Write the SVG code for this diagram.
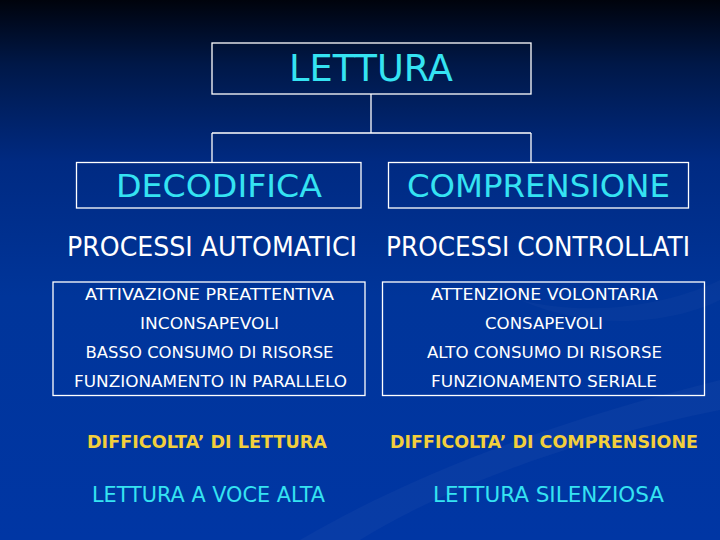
<svg xmlns="http://www.w3.org/2000/svg" width="720" height="540" viewBox="0 0 720 540">
<defs>
<linearGradient id="bg" x1="0" y1="0" x2="0" y2="1">
<stop offset="0" stop-color="#00030c"/>
<stop offset="0.12" stop-color="#001848"/>
<stop offset="0.3" stop-color="#002a82"/>
<stop offset="0.55" stop-color="#00359a"/>
<stop offset="1" stop-color="#0036a4"/>
</linearGradient>
<style>
.box{fill:none;stroke:#ffffff;stroke-width:1.3}
.ln{fill:none;stroke:#ffffff;stroke-width:1.3}
text{font-family:"DejaVu Sans","Liberation Sans",sans-serif;text-anchor:middle}
.cy{fill:#35e3f2}
.wh{fill:#ffffff}
.ye{fill:#f2cf3c;font-weight:bold}
</style>
</defs>
<rect width="720" height="540" fill="url(#bg)"/>
<path d="M300,540 C420,470 560,420 720,380 L720,410 C570,440 440,490 360,540 Z" fill="#ffffff" opacity="0.03"/>
<path d="M520,300 C600,320 680,300 720,280 L720,300 C680,320 600,335 520,300 Z" fill="#ffffff" opacity="0.025"/>
<g id="connectors">
<line class="ln" x1="371" y1="94" x2="371" y2="133"/>
<line class="ln" x1="212" y1="133" x2="531" y2="133"/>
<line class="ln" x1="212" y1="133" x2="212" y2="162"/>
<line class="ln" x1="531" y1="133" x2="531" y2="162"/>
</g>
<g id="lettura">
<rect class="box" x="212" y="43" width="319" height="51"/>
<text class="cy" x="371" y="81" font-size="37" textLength="164" lengthAdjust="spacingAndGlyphs">LETTURA</text>
</g>
<g id="decodifica">
<rect class="box" x="76.5" y="162.5" width="284.5" height="45.5"/>
<text class="cy" x="219" y="197" font-size="32" textLength="206" lengthAdjust="spacingAndGlyphs">DECODIFICA</text>
</g>
<g id="comprensione">
<rect class="box" x="388.5" y="162.5" width="300" height="45.5"/>
<text class="cy" x="538.5" y="197" font-size="32" textLength="263" lengthAdjust="spacingAndGlyphs">COMPRENSIONE</text>
</g>
<g id="processi-automatici">
<text class="wh" x="212" y="256" font-size="26" textLength="290" lengthAdjust="spacingAndGlyphs">PROCESSI AUTOMATICI</text>
</g>
<g id="processi-controllati">
<text class="wh" x="538" y="256" font-size="26" textLength="304" lengthAdjust="spacingAndGlyphs">PROCESSI CONTROLLATI</text>
</g>
<g id="automatici-box">
<rect class="box" x="53" y="282" width="312" height="113.5"/>
<text class="wh" x="209.5" y="300" font-size="16.5" textLength="249" lengthAdjust="spacingAndGlyphs">ATTIVAZIONE PREATTENTIVA</text>
<text class="wh" x="209.5" y="329" font-size="16.5" textLength="139" lengthAdjust="spacingAndGlyphs">INCONSAPEVOLI</text>
<text class="wh" x="209.5" y="358" font-size="16.5" textLength="248" lengthAdjust="spacingAndGlyphs">BASSO CONSUMO DI RISORSE</text>
<text class="wh" x="210.5" y="387" font-size="16.5" textLength="273" lengthAdjust="spacingAndGlyphs">FUNZIONAMENTO IN PARALLELO</text>
</g>
<g id="controllati-box">
<rect class="box" x="382.5" y="282" width="322" height="113.5"/>
<text class="wh" x="544.5" y="300" font-size="16.5" textLength="227" lengthAdjust="spacingAndGlyphs">ATTENZIONE VOLONTARIA</text>
<text class="wh" x="544" y="329" font-size="16.5" textLength="118" lengthAdjust="spacingAndGlyphs">CONSAPEVOLI</text>
<text class="wh" x="544.5" y="358" font-size="16.5" textLength="235" lengthAdjust="spacingAndGlyphs">ALTO CONSUMO DI RISORSE</text>
<text class="wh" x="544" y="387" font-size="16.5" textLength="226" lengthAdjust="spacingAndGlyphs">FUNZIONAMENTO SERIALE</text>
</g>
<g id="difficolta-lettura">
<text class="ye" x="207" y="448" font-size="17" textLength="240" lengthAdjust="spacingAndGlyphs">DIFFICOLTA’ DI LETTURA</text>
</g>
<g id="difficolta-comprensione">
<text class="ye" x="544" y="448" font-size="17" textLength="308" lengthAdjust="spacingAndGlyphs">DIFFICOLTA’ DI COMPRENSIONE</text>
</g>
<g id="voce-alta">
<text class="cy" x="208.5" y="502" font-size="21" textLength="233" lengthAdjust="spacingAndGlyphs">LETTURA A VOCE ALTA</text>
</g>
<g id="silenziosa">
<text class="cy" x="548.5" y="502" font-size="21" textLength="231" lengthAdjust="spacingAndGlyphs">LETTURA SILENZIOSA</text>
</g>
</svg>
